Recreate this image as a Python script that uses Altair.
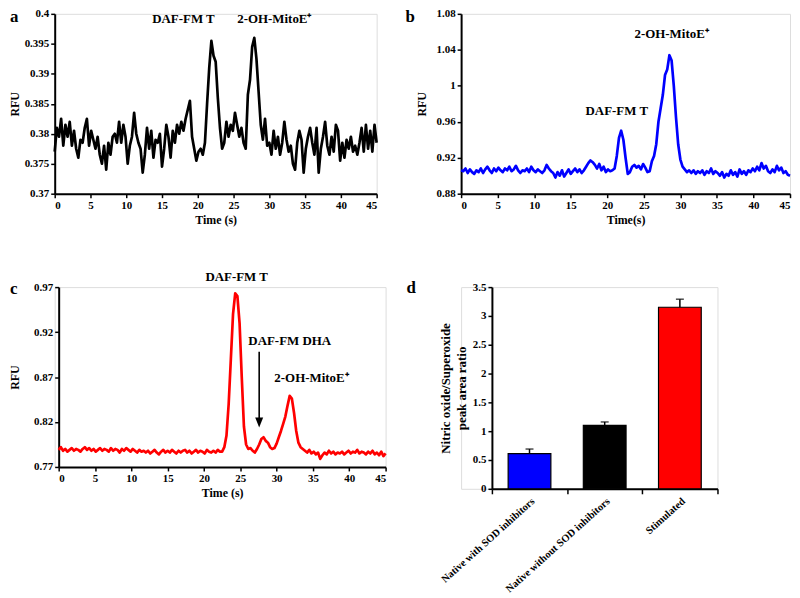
import altair as alt
import pandas as pd

# ---------------- data ----------------
T = [round(i * 0.3, 1) for i in range(151)]

A = [0.377, 0.381, 0.3795, 0.3825, 0.378, 0.3815, 0.3795, 0.382, 0.378, 0.3805,
     0.3775, 0.376, 0.379, 0.3785, 0.381, 0.3825, 0.378, 0.3805, 0.379, 0.3775,
     0.3795, 0.3765, 0.375, 0.378, 0.374, 0.3785, 0.3765, 0.3795, 0.38, 0.3785,
     0.382, 0.3785, 0.3815, 0.3795, 0.375, 0.378, 0.3795, 0.3835, 0.38, 0.3785,
     0.3775, 0.3735, 0.3765, 0.381, 0.3775, 0.3805, 0.376, 0.379, 0.3785, 0.38,
     0.3745, 0.3775, 0.3815, 0.3795, 0.376, 0.3805, 0.3785, 0.3815, 0.38, 0.382,
     0.3805, 0.3825, 0.384, 0.3855, 0.3795, 0.3775, 0.3755, 0.377, 0.3775, 0.3765,
     0.3785, 0.385, 0.391, 0.3955, 0.393, 0.392, 0.386, 0.381, 0.3775, 0.3785,
     0.382, 0.3795, 0.3815, 0.3805, 0.3835, 0.3815, 0.3795, 0.381, 0.3785, 0.3775,
     0.3865, 0.389, 0.3945, 0.396, 0.3925, 0.387, 0.3815, 0.379, 0.3825, 0.378,
     0.3785, 0.3765, 0.3805, 0.3775, 0.3795, 0.3765, 0.3785, 0.382, 0.379, 0.377,
     0.378, 0.375, 0.374, 0.3785, 0.3805, 0.379, 0.3735, 0.3775, 0.3795, 0.381,
     0.3785, 0.3765, 0.381, 0.3735, 0.3775, 0.3795, 0.382, 0.378, 0.3765, 0.3795,
     0.377, 0.3815, 0.3805, 0.3755, 0.3785, 0.376, 0.379, 0.3775, 0.3795, 0.377,
     0.378, 0.3765, 0.3785, 0.381, 0.377, 0.3815, 0.3775, 0.3805, 0.377, 0.3815,
     0.3785]

B = [0.906, 0.905, 0.908, 0.903, 0.907, 0.904, 0.902, 0.906, 0.904, 0.908,
     0.903, 0.907, 0.910, 0.906, 0.903, 0.908, 0.905, 0.909, 0.906, 0.904,
     0.908, 0.906, 0.910, 0.905, 0.907, 0.911, 0.906, 0.903, 0.906, 0.905,
     0.908, 0.904, 0.910, 0.906, 0.904, 0.907, 0.905, 0.903, 0.906, 0.912,
     0.908, 0.905, 0.903, 0.898, 0.904, 0.900, 0.906, 0.899, 0.903, 0.907,
     0.902, 0.905, 0.908, 0.904, 0.907, 0.903, 0.906, 0.910, 0.914, 0.917,
     0.915, 0.912, 0.908, 0.913, 0.906, 0.910, 0.904, 0.907, 0.905, 0.906,
     0.908, 0.922, 0.942, 0.950, 0.940, 0.920, 0.902, 0.904, 0.910, 0.912,
     0.909, 0.911, 0.907, 0.913, 0.909, 0.904, 0.905, 0.916, 0.922, 0.935,
     0.960, 0.975, 0.990, 1.012, 1.018, 1.034, 1.028, 1.000, 0.965, 0.935,
     0.918, 0.910, 0.907, 0.904, 0.906, 0.903, 0.906, 0.902, 0.905, 0.903,
     0.906, 0.901, 0.905, 0.903, 0.908, 0.902, 0.905, 0.903, 0.900, 0.904,
     0.898, 0.902, 0.900, 0.906, 0.901, 0.904, 0.899, 0.907, 0.902, 0.905,
     0.901, 0.906, 0.904, 0.908, 0.905, 0.910, 0.906, 0.914, 0.908, 0.911,
     0.905, 0.903, 0.907, 0.904, 0.911, 0.906, 0.909, 0.903, 0.905, 0.901,
     0.900]

C = [0.789, 0.792, 0.788, 0.790, 0.787, 0.789, 0.791, 0.788, 0.790, 0.789,
     0.787, 0.790, 0.792, 0.789, 0.791, 0.788, 0.790, 0.787, 0.789, 0.791,
     0.788, 0.790, 0.789, 0.787, 0.791, 0.788, 0.790, 0.789, 0.786, 0.790,
     0.788, 0.791, 0.789, 0.787, 0.790, 0.788, 0.786, 0.789, 0.787, 0.788,
     0.786, 0.788, 0.785, 0.787, 0.789, 0.786, 0.784, 0.787, 0.789, 0.786,
     0.788, 0.786, 0.789, 0.787, 0.785, 0.788, 0.786, 0.788, 0.789, 0.786,
     0.788, 0.785, 0.787, 0.789, 0.786, 0.788, 0.787, 0.785, 0.789, 0.787,
     0.786, 0.788, 0.786, 0.789, 0.787, 0.787, 0.792, 0.805, 0.840, 0.890,
     0.940, 0.963, 0.960, 0.930, 0.870, 0.815, 0.795, 0.790, 0.791, 0.788,
     0.786, 0.790, 0.795, 0.801, 0.803, 0.799, 0.797, 0.792, 0.790, 0.791,
     0.796, 0.803, 0.810, 0.818, 0.826, 0.838, 0.849, 0.846, 0.830, 0.810,
     0.797, 0.792, 0.790, 0.788, 0.786, 0.789, 0.785, 0.787, 0.784, 0.786,
     0.779, 0.783, 0.786, 0.784, 0.788, 0.785, 0.787, 0.784, 0.786, 0.785,
     0.787, 0.784, 0.786, 0.788, 0.785, 0.787, 0.786, 0.789, 0.785, 0.787,
     0.786, 0.784, 0.787, 0.785, 0.788, 0.784, 0.786, 0.783, 0.787, 0.782,
     0.785]

X_TICKS = [0, 5, 10, 15, 20, 25, 30, 35, 40, 45]
A_TICKS = [0.37, 0.375, 0.38, 0.385, 0.39, 0.395, 0.4]
B_TICKS = [0.88, 0.92, 0.96, 1.0, 1.04, 1.08]
C_TICKS = [0.77, 0.82, 0.87, 0.92, 0.97]
D_TICKS = [0, 0.5, 1, 1.5, 2, 2.5, 3, 3.5]

A_LABELS = ["DAF-FM T", "2-OH-MitoE\u207a"]
A_LX = [18.0, 30.7]
A_LY = [0.3992, 0.3992]
B_LABELS = ["2-OH-MitoE\u207a", "DAF-FM T"]
B_LX = [28.8, 21.3]
B_LY = [1.057, 0.972]
C_LABELS = ["DAF-FM T", "DAF-FM DHA", "2-OH-MitoE\u207a"]
C_LX = [24.5, 31.8, 34.8]
C_LY = [0.9816, 0.91, 0.869]
ARROW_X = [27.6]
ARROW_TOP = [0.898]
ARROW_END = [0.824]
ARROW_HEAD = [0.8195]

CATS = ["Native with SOD inhibitors", "Native without SOD inhibitors", "Stimulated"]
RATIO = [0.61, 1.10, 3.15]
ERR = [0.08, 0.06, 0.14]
BAR_COLORS = ["#0000ff", "#000000", "#ff0000"]

FONT = "Liberation Serif"


def axis_common(**kw):
    base = dict(domainColor="black", domainWidth=2, tickColor="black", tickWidth=1.5,
                tickSize=4, labelFont=FONT, labelFontWeight="bold", labelFontSize=11,
                labelColor="black", labelPadding=2, labelOverlap=False, titleFont=FONT,
                titleFontWeight="bold", titleFontSize=12, titleColor="black", grid=False)
    base.update(kw)
    return alt.Axis(**base)


def letter(ch, x, y):
    return alt.Chart(pd.DataFrame({"l": [ch]})).mark_text(
        font=FONT, fontWeight="bold", fontSize=17, align="left", baseline="top", color="black"
    ).encode(x=alt.value(x), y=alt.value(y), text="l:N")


def trace(vals, color, ydom, yticks, xtitle, labels, lx, ly, w, h, let, let_x, let_y,
          shift=0):
    xscale = alt.Scale(domain=[0, 45], nice=False, range=[shift, w])
    xaxis = axis_common(values=X_TICKS, title=xtitle, titlePadding=4)
    yscale = alt.Scale(domain=ydom, nice=False, zero=False)
    yaxis = axis_common(values=yticks, format="~f", title="RFU", offset=-shift,
                        titleX=-33 - shift, titleBaseline="bottom")
    df = pd.DataFrame({"x": T, "y": vals})
    line = alt.Chart(df).mark_line(color=color, strokeWidth=2.7, strokeJoin="round").encode(
        x=alt.X("x:Q", scale=xscale, axis=xaxis),
        y=alt.Y("y:Q", scale=yscale, axis=yaxis))
    ldf = pd.DataFrame({"x": lx, "y": ly, "s": labels})
    txt = alt.Chart(ldf).mark_text(font=FONT, fontWeight="bold", fontSize=13, color="black").encode(
        x=alt.X("x:Q", scale=xscale, axis=xaxis),
        y=alt.Y("y:Q", scale=yscale, axis=yaxis), text="s:N")
    return (alt.layer(line, txt, letter(let, let_x, let_y)).properties(width=w, height=h),
            xscale, xaxis, yscale, yaxis)


pa, *_ = trace(A, "#000000", [0.37, 0.4], A_TICKS, "Time (s)", A_LABELS, A_LX, A_LY,
               324, 181, "a", -45, -5)
pb, *_ = trace(B, "#0000ff", [0.88, 1.08], B_TICKS, "Time(s)", B_LABELS, B_LX, B_LY,
               331, 181, "b", -56, -5)
pc_base, cxs, cxa, cys, cya = trace(C, "#ff0000", [0.77, 0.97], C_TICKS, "Time (s)",
                                    C_LABELS, C_LX, C_LY, 333, 181, "c", -45, -6, shift=4)

adf = pd.DataFrame({"x": ARROW_X, "y": ARROW_TOP, "y2": ARROW_END, "yh": ARROW_HEAD})
arrow_line = alt.Chart(adf).mark_rule(color="black", strokeWidth=1.6).encode(
    x=alt.X("x:Q", scale=cxs, axis=cxa), y=alt.Y("y:Q", scale=cys, axis=cya), y2="y2:Q")
arrow_head = alt.Chart(adf).mark_point(
    shape="M-0.8,-1L0.8,-1L0,1Z", filled=True, color="black", size=100, opacity=1
).encode(x=alt.X("x:Q", scale=cxs, axis=cxa), y=alt.Y("yh:Q", scale=cys, axis=cya))
pc = alt.layer(pc_base, arrow_line, arrow_head)

D_SHIFT = 31
D_W = 258
ddf = pd.DataFrame({"cat": CATS, "val": RATIO,
                    "top": [v + e for v, e in zip(RATIO, ERR)], "col": BAR_COLORS})
dxs = alt.Scale(paddingInner=0, paddingOuter=0, range=[D_SHIFT, D_W])
dxa = axis_common(title=None, labelAngle=318, tickBand="extent", labelFontSize=10.5,
                  labelAlign="right", labelBaseline="top", labelPadding=2,
                  labelLimit=300, tickSize=5)
dys = alt.Scale(domain=[0, 3.5], nice=False)
dya = axis_common(values=D_TICKS, format="~f", offset=-D_SHIFT,
                  title=["Nitric oxide/Superoxide", "peak area ratio"],
                  titleFontSize=13, titleLineHeight=16,
                  titleX=-40, titleBaseline="bottom")
bars = alt.Chart(ddf).mark_bar(size=43, stroke="black", strokeWidth=1.2).encode(
    x=alt.X("cat:N", sort=CATS, scale=dxs, axis=dxa),
    y=alt.Y("val:Q", scale=dys, axis=dya),
    color=alt.Color("col:N", scale=None))
err_rule = alt.Chart(ddf).mark_rule(color="black", strokeWidth=1.5).encode(
    x=alt.X("cat:N", sort=CATS, scale=dxs, axis=dxa),
    y=alt.Y("val:Q", scale=dys, axis=dya), y2="top:Q")
err_cap = alt.Chart(ddf).mark_tick(color="black", size=8, thickness=1.5).encode(
    x=alt.X("cat:N", sort=CATS, scale=dxs, axis=dxa),
    y=alt.Y("top:Q", scale=dys, axis=dya))
pd_chart = alt.layer(bars, err_rule, err_cap, letter("d", -55, -7)).properties(
    width=D_W, height=203)

chart = alt.concat(pa, pb, pc, pd_chart, columns=2, bounds="flush",
                   spacing={"row": 94, "column": 76}).properties(
    padding={"left": 0, "top": -3, "right": 0, "bottom": 0}
).configure_view(strokeWidth=0).configure(background="white")

chart.save("out.html", embed_options={"renderer": "svg", "actions": False})
